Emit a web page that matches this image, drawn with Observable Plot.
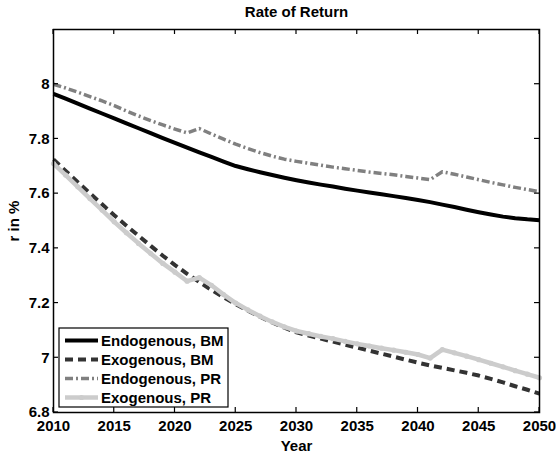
<!DOCTYPE html>
<html><head><meta charset="utf-8">
<script src="https://cdn.jsdelivr.net/npm/d3@7"></script>
<script src="https://cdn.jsdelivr.net/npm/@observablehq/plot@0.6"></script>
<style>body{margin:0;background:#fff}</style>
</head><body><div id="chart"></div>
<script>
const title = "Rate of Return";
const xLabel = "Year";
const yLabel = "r in %";
const seriesNames = ["Endogenous, BM", "Exogenous, BM", "Endogenous, PR", "Exogenous, PR"];
const years = [2010,2011,2012,2013,2014,2015,2016,2017,2018,2019,2020,2021,2022,2023,2024,2025,2026,2027,2028,2029,2030,2031,2032,2033,2034,2035,2036,2037,2038,2039,2040,2041,2042,2043,2044,2045,2046,2047,2048,2049,2050];
const endoBM = [7.965,7.947,7.929,7.911,7.893,7.875,7.857,7.839,7.821,7.803,7.786,7.768,7.751,7.734,7.717,7.701,7.689,7.678,7.668,7.658,7.649,7.641,7.633,7.626,7.618,7.611,7.604,7.598,7.591,7.584,7.577,7.569,7.560,7.551,7.541,7.532,7.524,7.516,7.510,7.506,7.503];
const exoBM = [7.725,7.683,7.642,7.601,7.561,7.521,7.483,7.446,7.409,7.373,7.339,7.307,7.277,7.248,7.221,7.196,7.172,7.150,7.129,7.110,7.093,7.081,7.070,7.059,7.048,7.037,7.026,7.015,7.004,6.993,6.982,6.972,6.963,6.954,6.945,6.935,6.923,6.910,6.896,6.883,6.869];
const endoPR = [8.000,7.986,7.971,7.955,7.939,7.922,7.902,7.884,7.867,7.851,7.836,7.822,7.838,7.818,7.799,7.781,7.765,7.750,7.737,7.726,7.718,7.711,7.704,7.697,7.691,7.685,7.679,7.674,7.669,7.663,7.657,7.651,7.680,7.671,7.661,7.651,7.641,7.632,7.623,7.615,7.607];
const exoPR = [7.710,7.668,7.625,7.582,7.540,7.497,7.457,7.418,7.381,7.345,7.313,7.280,7.293,7.265,7.231,7.200,7.175,7.152,7.131,7.113,7.098,7.088,7.078,7.070,7.060,7.051,7.043,7.035,7.028,7.020,7.012,6.999,7.030,7.018,7.006,6.993,6.980,6.967,6.953,6.940,6.927];
const xTicks = [2010,2015,2020,2025,2030,2035,2040,2045,2050];
const yTicks = [6.8,7.0,7.2,7.4,7.6,7.8,8.0];
const yTickLabels = ["6.8","7","7.2","7.4","7.6","7.8","8"];

const seriesValues = [endoBM, exoBM, endoPR, exoPR];
const styles = [
  {stroke:"#000000", strokeWidth:4, dash:null},
  {stroke:"#333333", strokeWidth:4, dash:"8,5"},
  {stroke:"#808080", strokeWidth:3.5, dash:"8,3,2,3"},
  {stroke:"#cccccc", strokeWidth:4.5, dash:null}
];
const tables = seriesValues.map((vals, s) => years.map((yr, i) => ({year: yr, r: vals[i], series: seriesNames[s]})));

const lineMarks = tables.map((t, s) => Plot.line(t, {
  x: "year", y: "r", stroke: styles[s].stroke, strokeWidth: styles[s].strokeWidth,
  strokeDasharray: styles[s].dash, strokeLinejoin: "round", strokeLinecap: "butt"
}));

const W = 556, H = 455, mL = 53, mR = 17, mT = 29, mB = 43, tickLen = 5;

const chart = Plot.plot({
  width: W, height: H,
  marginLeft: mL, marginRight: mR, marginTop: mT, marginBottom: mB,
  style: {fontFamily: "'Liberation Sans', Arial, sans-serif", fontSize: "15px", fontWeight: "bold", background: "white", color: "black"},
  x: {domain: [2010, 2050]},
  y: {domain: [6.8, 8.2]},
  marks: [
    Plot.axisX({ticks: xTicks, tickFormat: "d", tickSize: 0, tickPadding: 8, label: xLabel, labelAnchor: "center", labelOffset: 38, labelArrow: "none"}),
    Plot.axisY({ticks: yTicks, tickSize: 0, tickPadding: 4, tickFormat: (d) => yTickLabels[yTicks.indexOf(d)], label: yLabel, labelAnchor: "center", labelOffset: 45, labelArrow: "none"}),
    ...lineMarks,
    Plot.dot(tables[3], {x: "year", y: "r", r: 2.6, fill: "#cccccc", stroke: null}),
    Plot.frame({stroke: "black", strokeWidth: 1.5}),
    Plot.text([title], {frameAnchor: "top", lineAnchor: "middle", dy: -17, fontWeight: "bold", fill: "black"})
  ]
});
document.getElementById("chart").appendChild(chart);

// inward ticks on all four sides, positioned through Plot's own scales
const sx = chart.scale("x"), sy = chart.scale("y");
const svg = d3.select(chart);
const tg = svg.append("g").attr("stroke", "black").attr("stroke-width", 1.2);
const frameTop = mT, frameBottom = H - mB, frameLeft = mL, frameRight = W - mR;
xTicks.forEach(t => {
  const x = sx.apply(t);
  tg.append("line").attr("x1", x).attr("x2", x).attr("y1", frameBottom).attr("y2", frameBottom - tickLen);
  tg.append("line").attr("x1", x).attr("x2", x).attr("y1", frameTop).attr("y2", frameTop + tickLen);
});
yTicks.forEach(t => {
  const y = sy.apply(t);
  tg.append("line").attr("x1", frameLeft).attr("x2", frameLeft + tickLen).attr("y1", y).attr("y2", y);
  tg.append("line").attr("x1", frameRight).attr("x2", frameRight - tickLen).attr("y1", y).attr("y2", y);
});

// legend inside the axes (layout in pixels)
const lg = svg.append("g").attr("transform", "translate(59,328)");
lg.append("rect").attr("x", 0).attr("y", 0).attr("width", 169).attr("height", 79)
  .attr("fill", "white").attr("stroke", "black").attr("stroke-width", 1.2);
seriesNames.forEach((name, i) => {
  const cy = 12.5 + 19 * i;
  lg.append("line").attr("x1", 6).attr("x2", 39).attr("y1", cy).attr("y2", cy)
    .attr("stroke", styles[i].stroke).attr("stroke-width", styles[i].strokeWidth)
    .attr("stroke-dasharray", styles[i].dash);
  if (i === 3) lg.append("circle").attr("cx", 22.5).attr("cy", cy).attr("r", 2.6).attr("fill", "#cccccc");
  lg.append("text").attr("x", 42).attr("y", cy + 5.3).text(name)
    .attr("text-anchor", "start")
    .attr("font-family", "'Liberation Sans', Arial, sans-serif").attr("font-size", 15).attr("font-weight", "bold").attr("fill", "black");
});
</script>
</body></html>
